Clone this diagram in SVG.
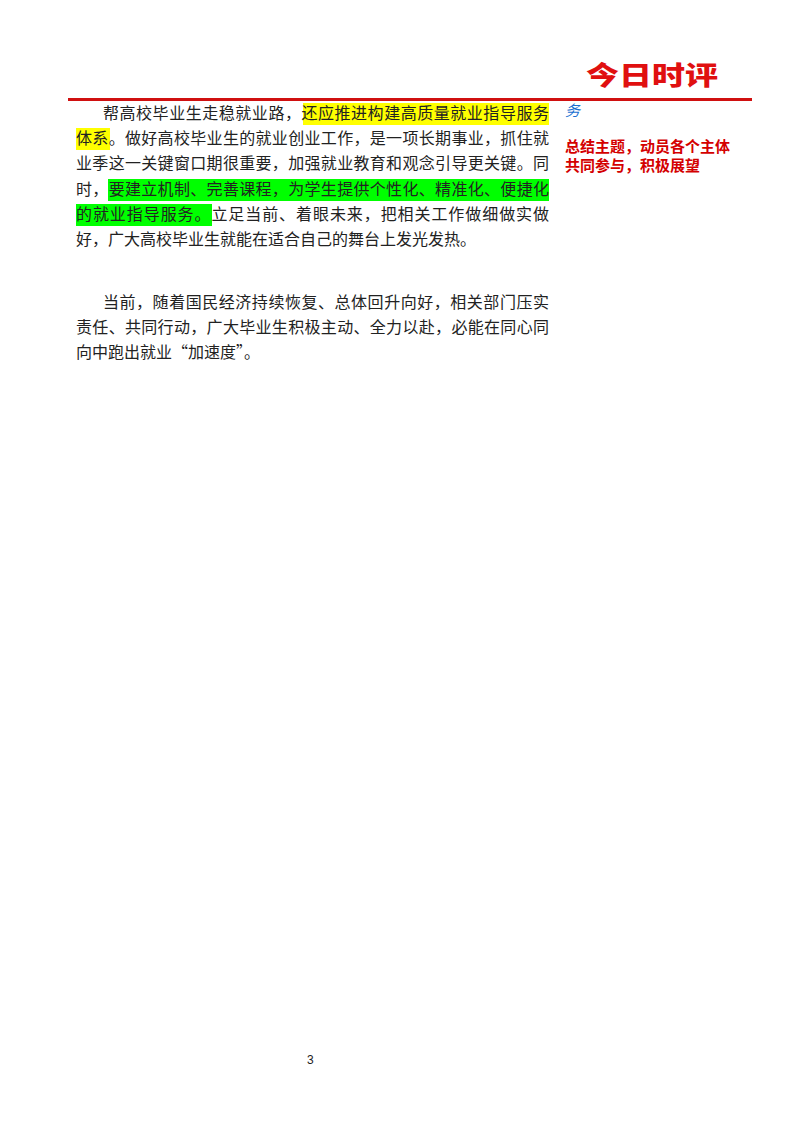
<svg xmlns="http://www.w3.org/2000/svg" width="800" height="1132" viewBox="0 0 800 1132">
<style>
.b{font-family:"Noto Sans CJK SC","Noto Serif CJK SC",serif;font-size:16px;fill:#222}
.r{font-family:"Noto Sans CJK SC",sans-serif;font-size:15px;font-weight:bold;fill:#d40000}
</style>
<rect width="800" height="1132" fill="#fff"/>
<g id="header">
<text x="586" y="85" font-family="Noto Sans CJK SC,sans-serif" font-size="26" font-weight="900" fill="#e01010" textLength="132" lengthAdjust="spacingAndGlyphs">今日时评</text>
<rect x="68" y="98" width="684" height="3" fill="#d01010"/>
</g>
<g id="highlights">
<rect x="303" y="103" width="246" height="22" fill="#ffff00"/>
<rect x="76" y="128" width="34" height="22" fill="#ffff00"/>
<rect x="108" y="179" width="441" height="22" fill="#00ff00"/>
<rect x="76" y="204" width="136" height="22" fill="#00ff00"/>
</g>
<g id="body">
<text class="b" x="103" y="119" textLength="446">帮高校毕业生走稳就业路，还应推进构建高质量就业指导服务</text>
<text class="b" x="76" y="144" textLength="473">体系。做好高校毕业生的就业创业工作，是一项长期事业，抓住就</text>
<text class="b" x="76" y="169" textLength="473">业季这一关键窗口期很重要，加强就业教育和观念引导更关键。同</text>
<text class="b" x="76" y="195" textLength="473">时，要建立机制、完善课程，为学生提供个性化、精准化、便捷化</text>
<text class="b" x="76" y="220" textLength="473">的就业指导服务。立足当前、着眼未来，把相关工作做细做实做</text>
<text class="b" x="76" y="245">好，广大高校毕业生就能在适合自己的舞台上发光发热。</text>
<text class="b" x="103" y="308" textLength="446">当前，随着国民经济持续恢复、总体回升向好，相关部门压实</text>
<text class="b" x="76" y="333" textLength="473">责任、共同行动，广大毕业生积极主动、全力以赴，必能在同心同</text>
<text class="b" x="76" y="358">向中跑出就业“加速度”。</text>
</g>
<g id="sidebar">
<text x="565" y="116" font-family="Noto Sans CJK SC,sans-serif" font-size="15" font-style="italic" fill="#1a6fd0">务</text>
<text class="r" x="565" y="152">总结主题，动员各个主体</text>
<text class="r" x="565" y="171">共同参与，积极展望</text>
</g>
<text x="307" y="1064" font-family="Liberation Sans,sans-serif" font-size="12" fill="#222">3</text>
</svg>
